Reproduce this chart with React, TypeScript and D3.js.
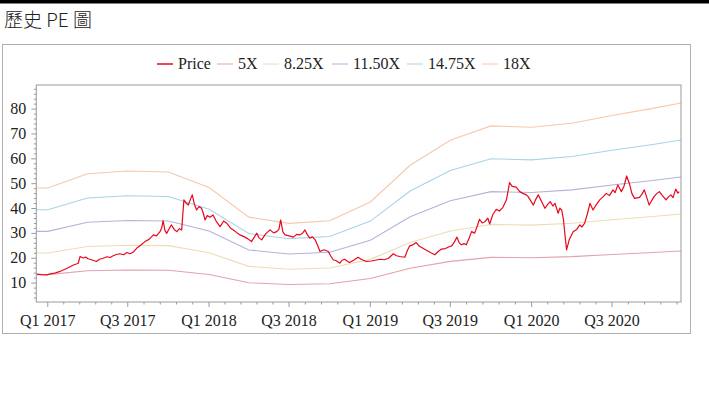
import React from 'react';
import * as d3 from 'd3';

const priceSeries: [string, number][] = [
  ['2016-12-07', 13.6], ['2016-12-18', 13.4], ['2016-12-30', 13.3], ['2017-01-09', 13.8], ['2017-01-17', 14.0],
  ['2017-01-27', 14.6], ['2017-02-05', 15.3], ['2017-02-16', 16.2], ['2017-02-28', 17.3],
  ['2017-03-05', 17.6], ['2017-03-11', 18.0], ['2017-03-15', 20.7], ['2017-03-22', 20.1],
  ['2017-03-28', 20.5], ['2017-04-02', 19.8], ['2017-04-10', 19.4], ['2017-04-21', 18.7],
  ['2017-04-28', 19.6], ['2017-05-06', 20.0], ['2017-05-15', 20.6], ['2017-05-22', 20.3],
  ['2017-05-29', 21.0], ['2017-06-05', 21.5], ['2017-06-13', 21.8], ['2017-06-22', 21.4],
  ['2017-06-29', 22.3], ['2017-07-06', 21.8], ['2017-07-13', 22.4], ['2017-07-21', 24.0],
  ['2017-07-30', 25.2], ['2017-08-09', 26.7], ['2017-08-18', 27.6], ['2017-08-28', 29.4],
  ['2017-09-04', 29.0], ['2017-09-12', 30.7], ['2017-09-16', 32.4], ['2017-09-19', 35.1],
  ['2017-09-23', 31.2], ['2017-09-27', 30.0], ['2017-10-03', 32.0], ['2017-10-08', 33.4],
  ['2017-10-14', 31.6], ['2017-10-20', 30.7], ['2017-10-26', 31.9], ['2017-10-31', 31.4],
  ['2017-11-05', 43.5], ['2017-11-10', 42.2], ['2017-11-15', 41.4], ['2017-11-20', 43.8],
  ['2017-11-24', 45.5], ['2017-11-29', 41.6], ['2017-12-04', 39.4], ['2017-12-09', 40.8],
  ['2017-12-15', 40.1], ['2017-12-19', 38.0], ['2017-12-23', 35.4], ['2017-12-28', 37.2],
  ['2018-01-03', 36.5], ['2018-01-10', 37.4], ['2018-01-18', 34.6], ['2018-01-26', 32.7],
  ['2018-02-03', 35.0], ['2018-02-10', 34.1], ['2018-02-18', 32.2], ['2018-02-25', 31.4],
  ['2018-03-04', 30.4], ['2018-03-12', 29.4], ['2018-03-22', 28.6], ['2018-03-30', 27.8],
  ['2018-04-07', 26.7], ['2018-04-13', 28.4], ['2018-04-19', 30.1], ['2018-04-24', 28.2],
  ['2018-04-30', 27.4], ['2018-05-09', 29.8], ['2018-05-19', 31.4], ['2018-05-27', 30.2],
  ['2018-06-03', 30.7], ['2018-06-08', 31.6], ['2018-06-12', 35.4], ['2018-06-17', 30.6],
  ['2018-06-22', 29.4], ['2018-07-01', 29.0], ['2018-07-11', 28.5], ['2018-07-18', 29.6],
  ['2018-07-26', 29.4], ['2018-08-01', 30.2], ['2018-08-06', 31.4], ['2018-08-11', 29.6],
  ['2018-08-17', 28.1], ['2018-08-23', 28.6], ['2018-08-29', 27.4], ['2018-09-04', 25.0],
  ['2018-09-09', 22.7], ['2018-09-18', 23.4], ['2018-09-28', 22.7], ['2018-10-03', 21.0],
  ['2018-10-09', 19.4], ['2018-10-16', 19.0], ['2018-10-24', 18.0], ['2018-10-29', 19.2],
  ['2018-11-04', 19.6], ['2018-11-10', 18.8], ['2018-11-15', 18.3], ['2018-11-25', 19.3],
  ['2018-12-04', 20.4], ['2018-12-12', 19.5], ['2018-12-23', 18.7], ['2019-01-03', 18.9],
  ['2019-01-12', 19.2], ['2019-01-23', 19.6], ['2019-02-02', 19.4], ['2019-02-11', 20.0],
  ['2019-02-22', 21.8], ['2019-03-01', 21.0], ['2019-03-09', 20.7], ['2019-03-20', 20.4],
  ['2019-03-25', 22.8], ['2019-03-31', 25.0], ['2019-04-07', 25.4], ['2019-04-15', 26.3],
  ['2019-04-22', 24.8], ['2019-04-30', 24.0], ['2019-05-10', 23.0], ['2019-05-18', 22.2],
  ['2019-05-27', 21.4], ['2019-06-03', 22.6], ['2019-06-11', 23.7], ['2019-06-20', 23.9],
  ['2019-06-27', 24.5], ['2019-07-04', 25.0], ['2019-07-10', 26.5], ['2019-07-16', 28.5],
  ['2019-07-21', 26.2], ['2019-07-26', 25.4], ['2019-08-01', 25.9], ['2019-08-06', 25.4],
  ['2019-08-12', 27.8], ['2019-08-18', 30.7], ['2019-08-25', 30.1], ['2019-08-31', 33.0],
  ['2019-09-05', 35.7], ['2019-09-11', 34.2], ['2019-09-17', 34.7], ['2019-09-24', 36.1],
  ['2019-09-28', 33.8], ['2019-10-05', 37.5], ['2019-10-13', 39.7], ['2019-10-20', 39.0],
  ['2019-10-28', 40.5], ['2019-11-05', 43.5], ['2019-11-12', 50.4], ['2019-11-18', 48.9],
  ['2019-11-27', 48.6], ['2019-12-05', 46.8], ['2019-12-12', 46.1], ['2019-12-20', 45.5],
  ['2019-12-24', 44.8], ['2020-01-05', 41.4], ['2020-01-10', 43.6], ['2020-01-16', 45.5],
  ['2020-01-24', 42.6], ['2020-01-31', 40.1], ['2020-02-06', 41.6], ['2020-02-12', 42.8],
  ['2020-02-18', 41.0], ['2020-02-23', 42.1], ['2020-03-01', 38.1], ['2020-03-05', 40.2],
  ['2020-03-09', 39.4], ['2020-03-13', 35.5], ['2020-03-16', 30.1], ['2020-03-20', 23.4],
  ['2020-03-26', 27.4], ['2020-04-04', 30.7], ['2020-04-12', 31.6], ['2020-04-19', 33.4],
  ['2020-04-24', 32.6], ['2020-04-30', 34.1], ['2020-05-06', 37.8], ['2020-05-12', 42.1],
  ['2020-05-19', 39.4], ['2020-05-26', 41.5], ['2020-06-03', 43.5], ['2020-06-10', 44.6],
  ['2020-06-18', 46.1], ['2020-06-25', 45.2], ['2020-07-03', 47.5], ['2020-07-08', 46.4],
  ['2020-07-14', 49.5], ['2020-07-22', 46.8], ['2020-07-28', 49.0], ['2020-08-03', 53.1],
  ['2020-08-09', 50.2], ['2020-08-15', 46.0], ['2020-08-21', 44.1], ['2020-09-01', 44.5],
  ['2020-09-06', 45.6], ['2020-09-12', 47.5], ['2020-09-18', 44.2], ['2020-09-23', 41.4],
  ['2020-09-28', 43.0], ['2020-10-04', 44.8], ['2020-10-10', 46.0], ['2020-10-16', 46.8],
  ['2020-10-24', 45.0], ['2020-10-31', 43.5], ['2020-11-05', 44.6], ['2020-11-11', 45.5],
  ['2020-11-16', 44.4], ['2020-11-22', 47.8], ['2020-11-27', 46.2], ['2020-11-30', 46.8],
];

const epsDates = [
  '2016-12-06', '2017-01-01', '2017-04-01', '2017-07-01', '2017-10-01', '2018-01-01',
  '2018-04-01', '2018-07-01', '2018-10-01', '2019-01-01', '2019-04-01', '2019-07-01',
  '2019-10-01', '2020-01-01', '2020-04-01', '2020-07-01', '2020-10-01', '2020-12-04',
];
const epsValues = [
  2.68, 2.68, 3.0, 3.06, 3.04, 2.69, 2.03, 1.89, 1.95, 2.37, 3.19, 3.75,
  4.07, 4.04, 4.13, 4.3, 4.46, 4.58,
];

const multiples = [5, 8.25, 11.5, 14.75, 18];
const bandNames = ['5X', '8.25X', '11.50X', '14.75X', '18X'];
const bandColors = ['#e0a3ab', '#eedcb4', '#b4b2da', '#a9d3e6', '#f6c8aa'];
const priceColor = '#e8081e';

const xTickDates = ['2017-01-01', '2017-07-01', '2018-01-01', '2018-07-01', '2019-01-01', '2019-07-01', '2020-01-01', '2020-07-01', '2021-01-01'];
const xTickLabels = ['Q1 2017', 'Q3 2017', 'Q1 2018', 'Q3 2018', 'Q1 2019', 'Q3 2019', 'Q1 2020', 'Q3 2020', ''];
const yTicks = [10, 20, 30, 40, 50, 60, 70, 80];

const parse = d3.utcParse('%Y-%m-%d');

export default function App() {
  const W = 709, H = 397;
  const left = 36.3, right = 681, top = 85, bottom = 302;
  const x = d3.scaleUtc().domain([parse('2016-12-06')!, parse('2020-12-04')!]).range([left, right]);
  const y = d3.scaleLinear().domain([2.4, 89.7]).range([bottom, top]);

  const priceLine = d3.line<[string, number]>()
    .x(d => x(parse(d[0])!))
    .y(d => y(d[1]));

  const bandLine = (m: number) =>
    d3.line<number>()
      .x((_, i) => x(parse(epsDates[i])!))
      .y(v => y(v * m))(epsValues);

  const majorDates = xTickDates.map(d => parse(d)!);
  const minorTicks: Date[] = [];
  for (let i = 0; i < majorDates.length - 1; i++) {
    const a = +majorDates[i], b = +majorDates[i + 1];
    for (let k = 1; k < 5; k++) {
      const t = new Date(a + (b - a) * k / 5);
      if (+t <= +x.domain()[1]) minorTicks.push(t);
    }
  }
  const yMinor = d3.range(4, 90, 2).filter(v => v % 10 !== 0);

  const legendItems = [
    { name: 'Price', color: priceColor, lx: 157, w: 1.5 },
    ...bandNames.map((n, i) => ({ name: n, color: bandColors[i], lx: [217, 263, 332, 407, 482][i], w: 1 })),
  ];

  const axisColor = '#9a9a9a';
  const serif = '"Liberation Serif", "Times New Roman", serif';

  return (
    <svg width={W} height={H} style={{ position: 'absolute', left: 0, top: 0, background: '#fff' }}>
      <rect x={0} y={0} width={W} height={3.5} fill="#000" />
      <text x={4} y={26.5} fontFamily='"Noto Sans CJK TC", sans-serif' fontSize={19} fontWeight={300} fill="#222">歷史 PE 圖</text>
      <rect x={2.5} y={44.5} width={688} height={289} fill="none" stroke="#b0b0b0" strokeWidth={1} />

      {legendItems.map((it, i) => (
        <g key={i}>
          <line x1={it.lx} x2={it.lx + 16} y1={64} y2={64} stroke={it.color} strokeWidth={it.w} />
          <text x={it.lx + 21} y={69} fontFamily={serif} fontSize={16} fill="#222">{it.name}</text>
        </g>
      ))}

      <defs>
        <clipPath id="plotClip">
          <rect x={left} y={top} width={right - left} height={bottom - top} />
        </clipPath>
      </defs>

      <g clipPath="url(#plotClip)">
        {multiples.map((m, i) => (
          <path key={i} d={bandLine(m) || ''} fill="none" stroke={bandColors[i]} strokeWidth={1.1} />
        ))}
        <path d={priceLine(priceSeries) || ''} fill="none" stroke={priceColor} strokeWidth={1.2} strokeLinejoin="round" />
      </g>

      <rect x={left} y={top} width={right - left} height={bottom - top} fill="none" stroke={axisColor} strokeWidth={1} />

      {yTicks.map(v => (
        <g key={v}>
          <line x1={left - 5} x2={left} y1={y(v)} y2={y(v)} stroke={axisColor} />
          <text x={left - 10} y={y(v) + 5} textAnchor="end" fontFamily={serif} fontSize={16} fill="#222">{v}</text>
        </g>
      ))}
      {yMinor.map(v => (
        <line key={v} x1={left - 2.5} x2={left} y1={y(v)} y2={y(v)} stroke={axisColor} />
      ))}

      {majorDates.filter(d => +d <= +x.domain()[1]).map((d, i) => (
        <g key={i}>
          <line x1={x(d)} x2={x(d)} y1={bottom} y2={bottom + 5} stroke={axisColor} />
          <text x={x(d)} y={326} textAnchor="middle" fontFamily={serif} fontSize={16} fill="#222">{xTickLabels[i]}</text>
        </g>
      ))}
      {minorTicks.map((d, i) => (
        <line key={i} x1={x(d)} x2={x(d)} y1={bottom} y2={bottom + 2.5} stroke={axisColor} />
      ))}
    </svg>
  );
}
